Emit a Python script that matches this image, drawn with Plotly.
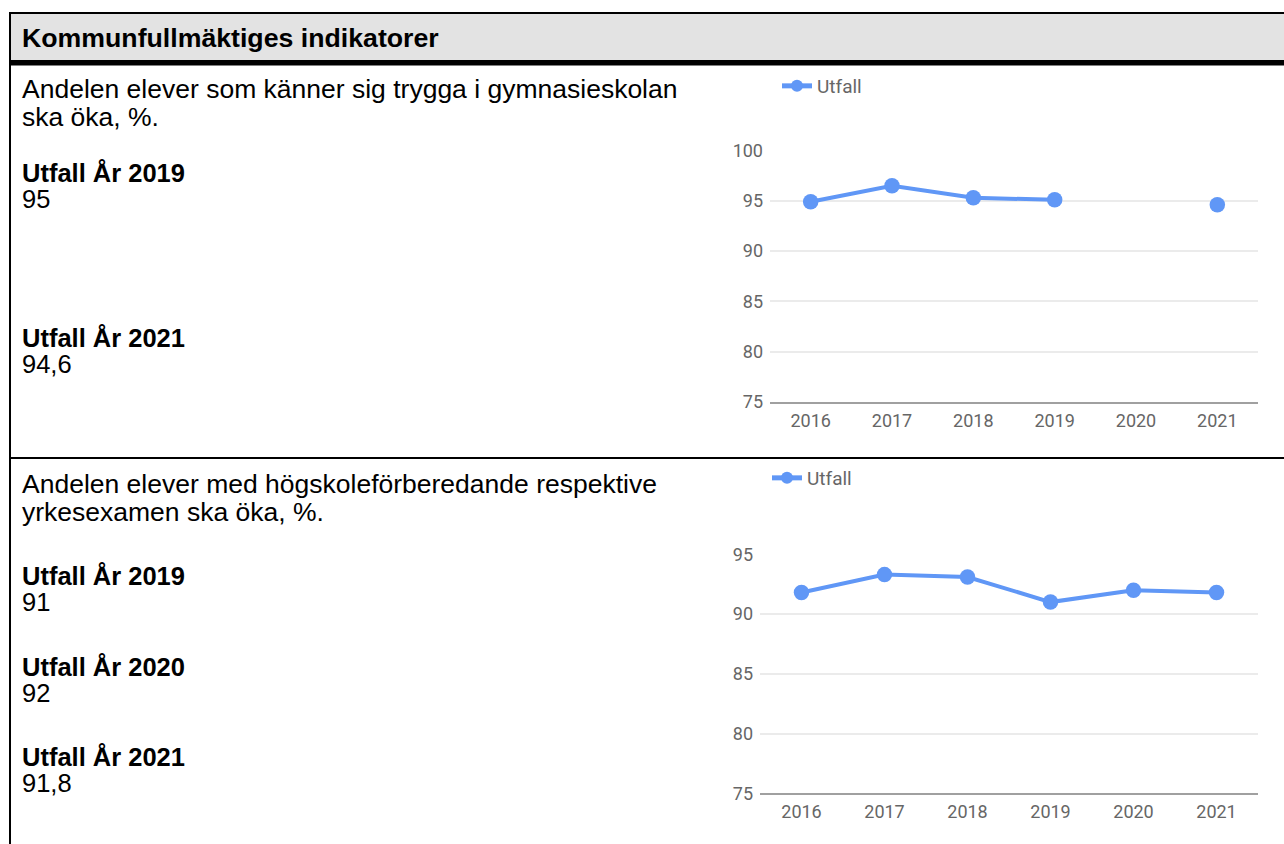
import plotly.graph_objects as go

W, H = 1284, 844

# ---------------- data ----------------
years = ["2016", "2017", "2018", "2019", "2020", "2021"]
trygga_values = [94.9, 96.5, 95.3, 95.1, None, 94.6]
examen_values = [91.8, 93.3, 93.1, 91.0, 92.0, 91.8]
series_name = "Utfall"

header_title = "Kommunfullmäktiges indikatorer"
indicator_1_lines = ["Andelen elever som känner sig trygga i gymnasieskolan", "ska öka, %."]
indicator_1_labels = ["Utfall År 2019", "Utfall År 2021"]
indicator_1_values = ["95", "94,6"]
indicator_2_lines = ["Andelen elever med högskoleförberedande respektive", "yrkesexamen ska öka, %."]
indicator_2_labels = ["Utfall År 2019", "Utfall År 2020", "Utfall År 2021"]
indicator_2_values = ["91", "92", "91,8"]

y1_ticks = [75, 80, 85, 90, 95, 100]
y2_ticks = [75, 80, 85, 90, 95]

# ---------------- style ----------------
LINE_COLOR = "#6097f6"
TICK_COLOR = "#666666"
GRID_COLOR = "#ebebeb"
AXIS_COLOR = "#a0a0a0"
TEXT_FONT = "Liberation Sans, Arial, sans-serif"
CHART_FONT = "Roboto, sans-serif"
HEAD_SIZE = 26.7
LINE_SIZE = 26.5
OUTCOME_SIZE = 25.5
TEXT_X = 20


def px(x):
    return x / W


def py(y):
    return 1 - y / H


fig = go.Figure()

fig.add_trace(go.Scatter(
    x=years, y=trygga_values, name=series_name, mode="lines+markers",
    line=dict(color=LINE_COLOR, width=4), marker=dict(color=LINE_COLOR, size=15.5),
    xaxis="x", yaxis="y", legend="legend", connectgaps=False,
))
fig.add_trace(go.Scatter(
    x=years, y=examen_values, name=series_name, mode="lines+markers",
    line=dict(color=LINE_COLOR, width=4), marker=dict(color=LINE_COLOR, size=15.5),
    xaxis="x2", yaxis="y2", legend="legend2",
))

# ---------------- table frame ----------------
shapes = []


def rect(x0, y0, x1, y1, color, layer="below"):
    shapes.append(dict(type="rect", xref="paper", yref="paper",
                       x0=px(x0), x1=px(x1), y0=py(y1), y1=py(y0),
                       fillcolor=color, line=dict(width=0), layer=layer))


rect(10, 14, W, 60, "#e3e3e3")      # header fill
rect(9, 12, W, 14, "black")         # top border
rect(9, 60, W, 65.5, "black")       # header bottom border
rect(9, 12, 11, H, "black")         # left border
rect(9, 457, W, 459, "black")       # row divider

annotations = []


def block(y_first, y_last, lines, glyph, bold_first=False):
    """Two-line text block; line pitch set by base font, glyphs by span size."""
    pitch = (y_last - y_first)
    base = pitch / 1.3
    parts = []
    for i, s in enumerate(lines):
        s2 = f"<b>{s}</b>" if (bold_first and i == 0) else s
        parts.append(f"<span style='font-size:{glyph}px'>{s2}</span>")
    annotations.append(dict(
        xref="paper", yref="paper", x=px(TEXT_X), y=py((y_first + y_last) / 2),
        text="<br>".join(parts), showarrow=False, xanchor="left", yanchor="middle",
        align="left", font=dict(family=TEXT_FONT, size=base, color="black"),
    ))


annotations.append(dict(
    xref="paper", yref="paper", x=px(TEXT_X), y=py(38), text=f"<b>{header_title}</b>",
    showarrow=False, xanchor="left", yanchor="middle",
    font=dict(family=TEXT_FONT, size=HEAD_SIZE, color="black"),
))

block(89, 117, indicator_1_lines, LINE_SIZE)
for lab, val, yy in zip(indicator_1_labels, indicator_1_values, [173, 338]):
    block(yy, yy + 26, [lab, val], OUTCOME_SIZE, bold_first=True)

block(483.5, 511.5, indicator_2_lines, LINE_SIZE)
for lab, val, yy in zip(indicator_2_labels, indicator_2_values, [576, 667, 757]):
    block(yy, yy + 26, [lab, val], OUTCOME_SIZE, bold_first=True)

# ---------------- axes ----------------
tickfont = dict(family=CHART_FONT, size=18, color=TICK_COLOR)
xcommon = dict(type="category", range=[-0.5, 5.5], showgrid=False, zeroline=False,
               showline=True, linecolor=AXIS_COLOR, linewidth=2, ticks="",
               tickfont=tickfont, ticklabelstandoff=1, fixedrange=True, automargin=False)
ycommon = dict(showgrid=True, gridcolor=GRID_COLOR, gridwidth=1.5, zeroline=False,
               showline=False, ticks="", tickfont=tickfont, ticklabelstandoff=6,
               fixedrange=True, automargin=False)
legfont = dict(family=CHART_FONT, size=19, color=TICK_COLOR)

fig.update_layout(
    width=W, height=H, margin=dict(l=0, r=0, t=0, b=0, pad=0, autoexpand=False),
    paper_bgcolor="white", plot_bgcolor="white",
    showlegend=True,
    xaxis=dict(domain=[px(770), px(1258)], anchor="y", **xcommon),
    yaxis=dict(domain=[py(402), py(150.5)], anchor="x", range=[75, 100],
               tickvals=y1_ticks, **ycommon),
    xaxis2=dict(domain=[px(760), px(1258)], anchor="y2", **xcommon),
    yaxis2=dict(domain=[py(793.3), py(554.3)], anchor="x2", range=[75, 95],
                tickvals=y2_ticks, **ycommon),
    legend=dict(x=px(777), y=py(86), xanchor="left", yanchor="middle",
                bgcolor="rgba(0,0,0,0)", itemsizing="constant", font=legfont),
    legend2=dict(x=px(767), y=py(478), xanchor="left", yanchor="middle",
                 bgcolor="rgba(0,0,0,0)", itemsizing="constant", font=legfont),
    shapes=shapes, annotations=annotations, hovermode=False,
)

fig.write_html("out.html", config={"displayModeBar": False},
               post_script="document.body.style.margin='0';")
